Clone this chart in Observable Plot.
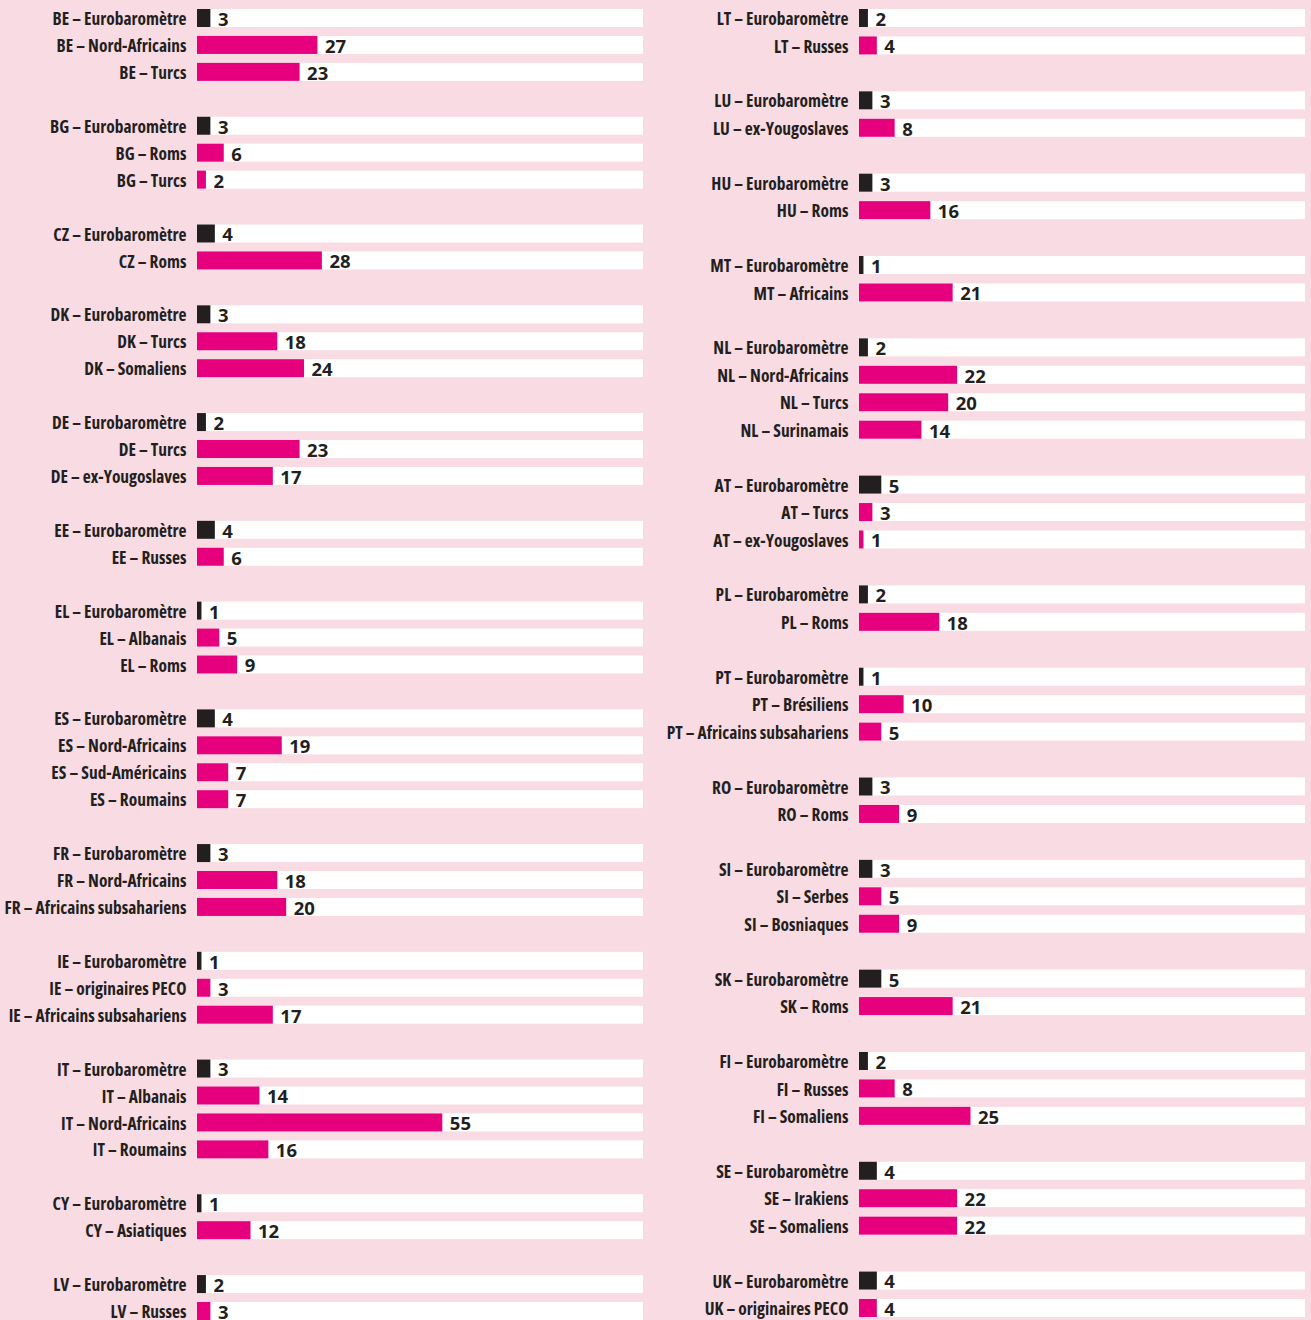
<!DOCTYPE html>
<html>
<head>
<meta charset="utf-8">
<script src="https://cdn.jsdelivr.net/npm/d3@7"></script>
<script src="https://cdn.jsdelivr.net/npm/@observablehq/plot@0.6"></script>
<style>
  html, body { margin: 0; padding: 0; background: #f8dbe3; }
  #chart { display: flex; width: 1311px; height: 1320px; overflow: hidden; background: #f8dbe3; }
  #chart svg { display: block; overflow: hidden; }
  #chart svg g[font-family*="Roboto"] { font-stretch: 75%; }
</style>
</head>
<body>
<div id="chart"></div>
<script>
// ---- Data ----
const leftLabels = [
  "BE – Eurobaromètre", "BE – Nord-Africains", "BE – Turcs",
  "BG – Eurobaromètre", "BG – Roms", "BG – Turcs",
  "CZ – Eurobaromètre", "CZ – Roms",
  "DK – Eurobaromètre", "DK – Turcs", "DK – Somaliens",
  "DE – Eurobaromètre", "DE – Turcs", "DE – ex-Yougoslaves",
  "EE – Eurobaromètre", "EE – Russes",
  "EL – Eurobaromètre", "EL – Albanais", "EL – Roms",
  "ES – Eurobaromètre", "ES – Nord-Africains", "ES – Sud-Américains", "ES – Roumains",
  "FR – Eurobaromètre", "FR – Nord-Africains", "FR – Africains subsahariens",
  "IE – Eurobaromètre", "IE – originaires PECO", "IE – Africains subsahariens",
  "IT – Eurobaromètre", "IT – Albanais", "IT – Nord-Africains", "IT – Roumains",
  "CY – Eurobaromètre", "CY – Asiatiques",
  "LV – Eurobaromètre", "LV – Russes"
];
const leftValues = [
  3, 27, 23,
  3, 6, 2,
  4, 28,
  3, 18, 24,
  2, 23, 17,
  4, 6,
  1, 5, 9,
  4, 19, 7, 7,
  3, 18, 20,
  1, 3, 17,
  3, 14, 55, 16,
  1, 12,
  2, 3
];
const rightLabels = [
  "LT – Eurobaromètre", "LT – Russes",
  "LU – Eurobaromètre", "LU – ex-Yougoslaves",
  "HU – Eurobaromètre", "HU – Roms",
  "MT – Eurobaromètre", "MT – Africains",
  "NL – Eurobaromètre", "NL – Nord-Africains", "NL – Turcs", "NL – Surinamais",
  "AT – Eurobaromètre", "AT – Turcs", "AT – ex-Yougoslaves",
  "PL – Eurobaromètre", "PL – Roms",
  "PT – Eurobaromètre", "PT – Brésiliens", "PT – Africains subsahariens",
  "RO – Eurobaromètre", "RO – Roms",
  "SI – Eurobaromètre", "SI – Serbes", "SI – Bosniaques",
  "SK – Eurobaromètre", "SK – Roms",
  "FI – Eurobaromètre", "FI – Russes", "FI – Somaliens",
  "SE – Eurobaromètre", "SE – Irakiens", "SE – Somaliens",
  "UK – Eurobaromètre", "UK – originaires PECO"
];
const rightValues = [
  2, 4,
  3, 8,
  3, 16,
  1, 21,
  2, 22, 20, 14,
  5, 3, 1,
  2, 18,
  1, 10, 5,
  3, 9,
  3, 5, 9,
  5, 21,
  2, 8, 25,
  4, 22, 22,
  4, 4
];
const xMax = 100;

// ---- Styles ----
const colPink = "#e6007e";
const colDark = "#231f20";
const colTrack = "#ffffff";
const labelFont = "'Open Sans', 'Roboto', sans-serif";   // condensed via CSS font-stretch
const valueFont = "'Open Sans', 'DejaVu Sans', sans-serif";

function buildDomain(labels) {
  // insert an empty spacer row between country groups
  const domain = [];
  let prev = null, k = 0;
  for (const l of labels) {
    const c = l.slice(0, 2);
    if (prev !== null && c !== prev) domain.push("__gap" + (k++));
    domain.push(l);
    prev = c;
  }
  return domain;
}

function makePlot(labels, values, opts) {
  const data = labels.map((label, i) => ({label, value: values[i], euro: label.includes("Eurobaromètre")}));
  const domain = buildDomain(labels);
  const n = domain.length;
  const step = (opts.lastCenter - opts.firstCenter) / (n - 1);
  const inset = (step - opts.barH) / 2;
  return Plot.plot({
    width: opts.width,
    height: 1320,
    marginLeft: opts.marginLeft,
    marginRight: opts.marginRight,
    marginTop: 0,
    marginBottom: 0,
    style: {background: "transparent", overflow: "hidden"},
    x: {domain: [0, xMax], axis: null},
    y: {domain, range: [opts.firstCenter - step / 2, opts.lastCenter + step / 2], padding: 0, round: false, axis: null},
    marks: [
      Plot.barX(data, {y: "label", x1: 0, x2: xMax, fill: colTrack, insetTop: inset, insetBottom: inset}),
      Plot.barX(data, {y: "label", x1: 0, x2: "value", fill: d => d.euro ? colDark : colPink, insetTop: inset, insetBottom: inset}),
      Plot.text(data, {
        y: "label", x: 0, text: "label", textAnchor: "end", dx: -11, dy: 1,
        fill: colDark, fontSize: 17.4, fontWeight: 700, fontFamily: labelFont
      }),
      Plot.text(data, {
        y: "label", x: "value", text: d => String(d.value), textAnchor: "start", dx: 7, dy: 1.5,
        fill: colDark, fontSize: 18.5, fontWeight: 700, fontFamily: valueFont
      })
    ]
  });
}

const left = makePlot(leftLabels, leftValues, {width: 655, marginLeft: 197, marginRight: 12, firstCenter: 18, lastCenter: 1311, barH: 18});
const right = makePlot(rightLabels, rightValues, {width: 656, marginLeft: 204, marginRight: 6, firstCenter: 18, lastCenter: 1308, barH: 18});
const chart = document.getElementById("chart");
chart.appendChild(left);
chart.appendChild(right);
</script>
</body>
</html>
